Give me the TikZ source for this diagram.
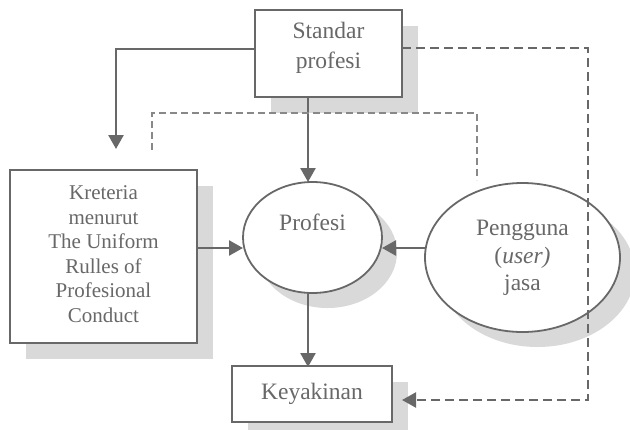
\documentclass[tikz,border=0pt]{standalone}
\usepackage{fontspec}
\setmainfont{Liberation Serif}
\usetikzlibrary{arrows.meta,shadows,shapes.geometric}
\definecolor{ink}{HTML}{686868}
\definecolor{txtgray}{HTML}{686868}
\definecolor{shade}{HTML}{D9D9D9}
\definecolor{lightdash}{HTML}{888888}
\begin{document}
\begin{tikzpicture}[x=1pt,y=-1pt,
  every node/.style={inner sep=0pt, outer sep=0pt},
  shadowed/.style={drop shadow={shadow xshift=16pt, shadow yshift=-16pt, fill=shade, opacity=1}},
  boxnode/.style={rectangle, draw=ink, line width=2pt, fill=white, shadowed},
  ellnode/.style={ellipse, draw=ink, line width=1.8pt, fill=white,
    drop shadow={shadow xshift=15pt, shadow yshift=-15pt, fill=shade, opacity=1}},
  label/.style={align=center, text=txtgray},
  big/.style={font=\fontsize{23.5}{30}\selectfont},
  arr/.style={draw=ink, line width=2.6pt, -{Triangle[length=14pt,width=15pt]}},
  dasharr/.style={draw=ink, line width=2.2pt, dash pattern=on 9pt off 5pt, -{Triangle[length=14pt,width=15pt]}},
  thindash/.style={draw=lightdash, line width=1.7pt, dash pattern=on 7pt off 4pt}]
\useasboundingbox (0,0) rectangle (630,429);

% shapes
\node[boxnode, minimum width=147pt, minimum height=87pt] (std) at (328.5,53.5) {};
\node[boxnode, minimum width=187pt, minimum height=173pt] (kre) at (103.5,256.5) {};
\node[ellnode, minimum width=139pt, minimum height=111pt] (pro) at (312.5,237.5) {};
\node[ellnode, minimum width=195pt, minimum height=149pt] (pen) at (522.5,257.5) {};
\node[boxnode, minimum width=160pt, minimum height=56pt] (key) at (312,394) {};

% labels
\node[label, big] (stdt) at (328.5,48) {Standar\\profesi};
\node[label, font=\fontsize{21}{24.5}\selectfont] (kret) at (103.5,254) {Kreteria\\menurut\\The Uniform\\Rulles of\\Profesional\\Conduct};
\node[label, big] (prot) at (312.5,222) {Profesi};
\node[label, font=\fontsize{23.5}{27.5}\selectfont] (pent) at (522.5,258) {Pengguna\\(\textit{user)}\\jasa};
\node[label, big] (keyt) at (312,394) {Keyakinan};

% routing points
\coordinate (k1) at (116,49);
\coordinate (k2) at (116,149);
\coordinate (vx) at (308,0);
\coordinate (hy) at (0,248);
\coordinate (d1) at (588,48);
\coordinate (d2) at (588,400);
\coordinate (dk) at (402,400);
\coordinate (l1) at (152,150);
\coordinate (l2) at (152,113);
\coordinate (l3) at (477,113);
\coordinate (l4) at (477,180);

% connectors
\draw[arr] (std.west |- k1) -- (k1) -- (k2);
\draw[arr] (std.south -| vx) -- (pro.north -| vx);
\draw[arr] (pro.south -| vx) -- ([yshift=-1pt]key.north -| vx);
\draw[arr] (kre.east |- hy) -- (pro.west |- hy);
\draw[arr] (pen.west |- hy) -- (pro.east |- hy);
\draw[dasharr] (std.east |- d1) -- (d1) -- (d2) -- (dk);
\draw[thindash] (l1) -- (l2) -- (l3) -- (l4);
\end{tikzpicture}
\end{document}
